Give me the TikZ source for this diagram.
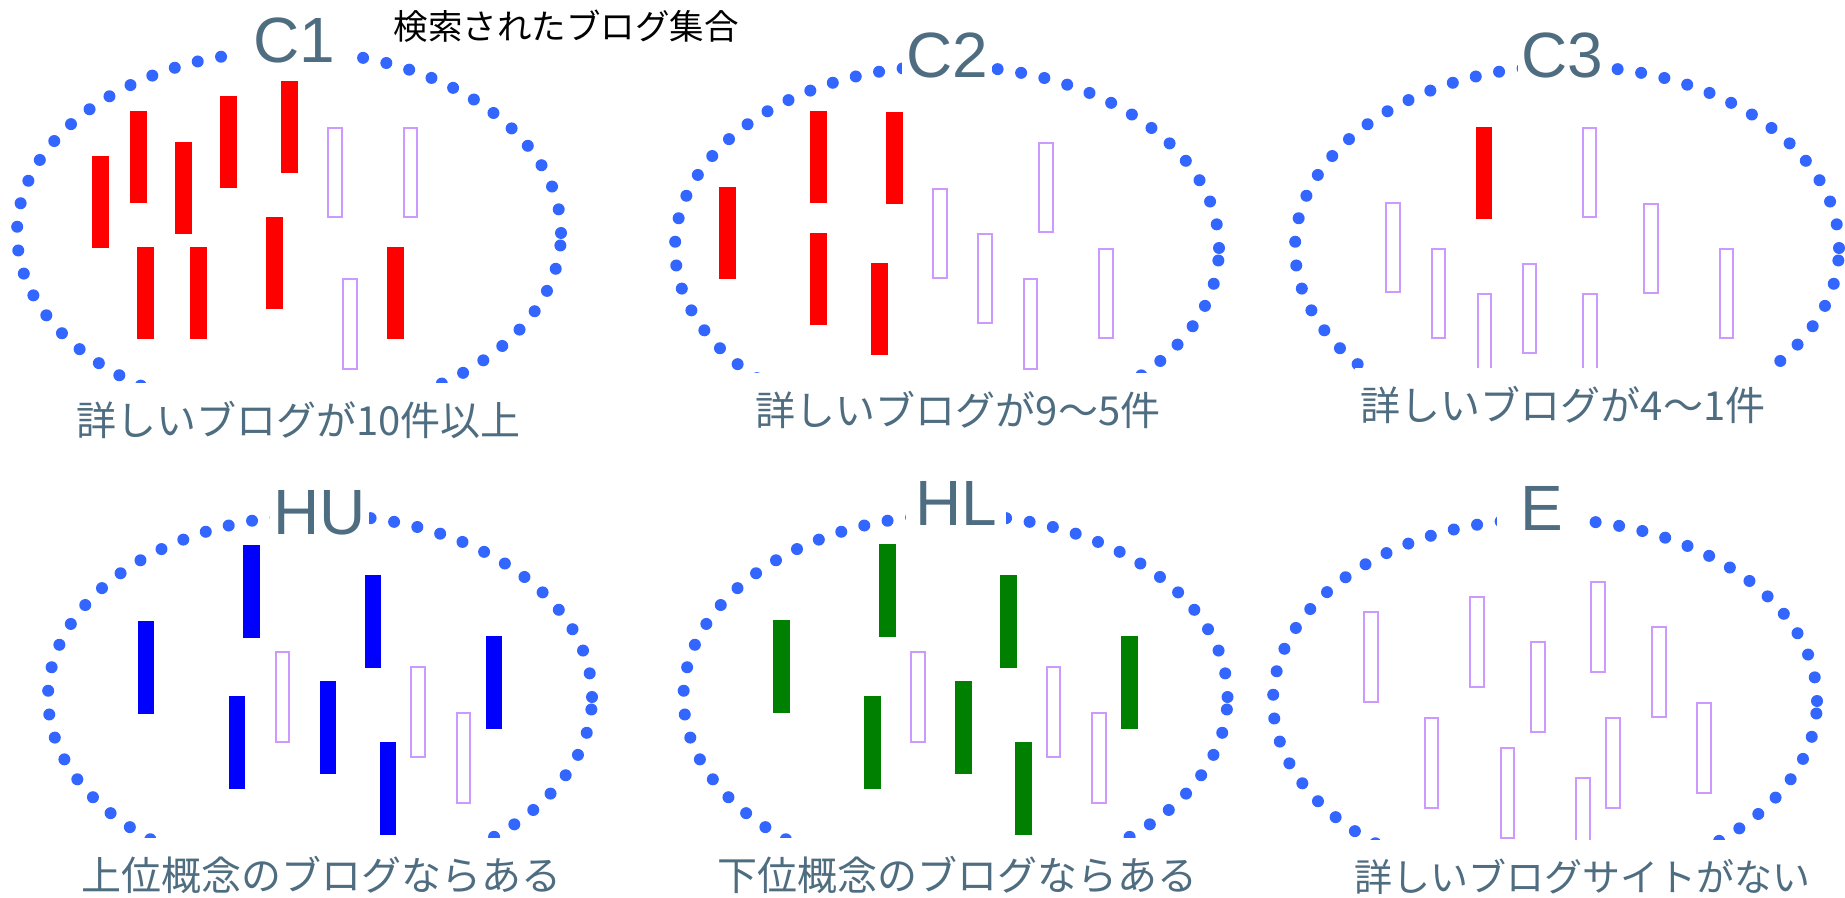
\documentclass[tikz,border=0pt]{standalone}
\usepackage{fontspec}
\setmainfont{Liberation Sans}
\newfontfamily\jp{Noto Sans CJK JP}
\definecolor{dotblue}{RGB}{51,102,255}
\definecolor{slate}{RGB}{79,109,128}
\definecolor{lav}{RGB}{204,153,255}
\definecolor{bargreen}{RGB}{0,128,0}
\begin{document}
\begin{tikzpicture}[x=0.5pt,y=-0.5pt,
  setring/.style={draw=dotblue, line width=6pt, line cap=round, dash pattern=on 0pt off 11.9pt},
  redbar/.style={fill=red},
  bluebar/.style={fill=blue},
  greenbar/.style={fill=bargreen},
  emptybar/.style={draw=lav, line width=1pt, fill=white},
  toplab/.style={fill=white, text=slate, inner sep=1.5pt, font=\fontsize{32pt}{36pt}\selectfont},
  botlab/.style={fill=white, text=slate, inner xsep=3pt, inner ysep=0pt, minimum height=37pt, font=\jp\fontsize{20pt}{24pt}\selectfont},
  titlelab/.style={text=black, inner sep=0pt, font=\jp\fontsize{17.25pt}{20pt}\selectfont}
]
\useasboundingbox (0,0) rectangle (1845,898);
\fill[white] (0,0) rectangle (1845,898);

% dotted ellipses
\draw[setring] (289,233) ellipse [x radius=136pt, y radius=91pt];
\draw[setring] (947,248) ellipse [x radius=136pt, y radius=91pt];
\draw[setring] (1567,248) ellipse [x radius=136pt, y radius=91pt];
\draw[setring] (320,697) ellipse [x radius=136pt, y radius=91pt];
\draw[setring] (955.5,697) ellipse [x radius=136pt, y radius=91pt];
\draw[setring] (1545,701) ellipse [x radius=136pt, y radius=91pt];

% C1 bars
\foreach \x/\y in {92/156, 130/111, 175/142, 220/96, 281/81, 137/247, 190/247, 266/217, 387/247}
  \fill[redbar] (\x,\y) rectangle ++(16.6,92.5);
\foreach \x/\y in {327/127, 402.5/127, 342/278}
  \draw[emptybar] (\x+1,\y+1) rectangle ++(13.5,89.5);

% C2 bars
\foreach \x/\y in {719/187, 810/111, 886/112, 810/233, 871/263}
  \fill[redbar] (\x,\y) rectangle ++(16.6,92.5);
\foreach \x/\y in {932/188, 977/233, 1038/142, 1022.5/278, 1098.4/248}
  \draw[emptybar] (\x+1,\y+1) rectangle ++(13.5,89.5);

% C3 bars
\fill[redbar] (1475.5,127) rectangle ++(16.6,92.5);
\foreach \x/\y in {1385/202, 1430.6/248, 1476.5/293, 1521.5/263, 1581.7/127, 1582/293, 1643/203, 1718.5/248}
  \draw[emptybar] (\x+1,\y+1) rectangle ++(13.5,89.5);

% HU bars
\foreach \x/\y in {137.6/621, 243.2/545, 228.5/696, 319.5/681, 364.6/575, 379.6/742, 485.6/636}
  \fill[bluebar] (\x,\y) rectangle ++(16.6,92.5);
\foreach \x/\y in {274.8/651, 410.4/666, 455.9/712}
  \draw[emptybar] (\x+1,\y+1) rectangle ++(13.5,89.5);

% HL bars
\foreach \x/\y in {773.4/620, 879/544, 864.4/696, 955/681, 1000.4/575, 1015.4/742, 1121.4/636}
  \fill[greenbar] (\x,\y) rectangle ++(16.6,92.5);
\foreach \x/\y in {910.2/651, 1045.8/666, 1091.3/712}
  \draw[emptybar] (\x+1,\y+1) rectangle ++(13.5,89.5);

% E bars
\foreach \x/\y in {1363.4/611, 1469.4/596, 1423.9/717, 1530/641, 1590.4/581, 1499.8/747, 1575.3/777, 1605.4/717, 1651/626, 1696.3/702}
  \draw[emptybar] (\x+1,\y+1) rectangle ++(13.5,89.5);

% title
\node[titlelab] (title) at (566,26) {検索されたブログ集合};

% set names
\node[toplab, minimum width=57.5pt] (c1) at (294.5,40) {C1};
\node[toplab, minimum width=45pt] (c2) at (947,55) {C2};
\node[toplab, minimum width=42pt] (c3) at (1562,55) {C3};
\node[toplab] (hu) at (319.3,513) {HU};
\node[toplab, minimum width=50pt] (hl) at (956,503) {HL};
\node[toplab, minimum width=45pt] (e) at (1542,508) {E};

% captions
\node[botlab] (l1) at (298.5,420) {詳しいブログが10件以上};
\node[botlab] (l2) at (958,410) {詳しいブログが9〜5件};
\node[botlab] (l3) at (1563,405) {詳しいブログが4〜1件};
\node[botlab] (l4) at (321,875) {上位概念のブログならある};
\node[botlab] (l5) at (957,875) {下位概念のブログならある};
\node[botlab, font=\jp\fontsize{19pt}{23pt}\selectfont] (l6) at (1582,877) {詳しいブログサイトがない};
\end{tikzpicture}
\end{document}
